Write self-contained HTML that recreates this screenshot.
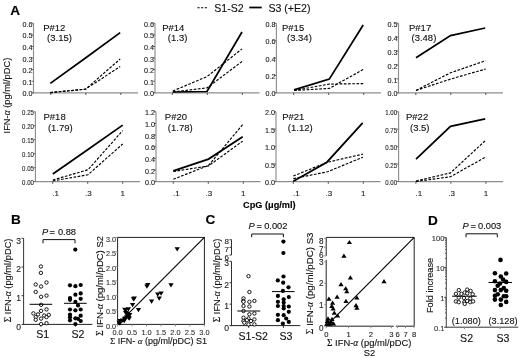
<!DOCTYPE html>
<html><head><meta charset="utf-8"><style>
html,body{margin:0;padding:0;background:#fff;}
body{width:520px;height:358px;overflow:hidden;}
svg{display:block;font-family:"Liberation Sans", sans-serif;filter:grayscale(100%);}
text{stroke:currentColor;stroke-width:0.12px;}
</style></head><body>
<svg width="520" height="358" viewBox="0 0 520 358">
<rect width="520" height="358" fill="#fff"/>
<line x1="33.50" y1="23.30" x2="33.50" y2="93.30" stroke="#8e8e8e" stroke-width="1.15" stroke-linecap="butt"/>
<line x1="33.00" y1="92.80" x2="138.00" y2="92.80" stroke="#8e8e8e" stroke-width="1.15" stroke-linecap="butt"/>
<line x1="31.50" y1="92.80" x2="33.50" y2="92.80" stroke="#666" stroke-width="1" stroke-linecap="butt"/>
<text x="32.60" y="96.40" font-size="7.2" text-anchor="end" font-weight="normal" fill="#222" color="#222">0.0</text>
<line x1="31.50" y1="81.22" x2="33.50" y2="81.22" stroke="#666" stroke-width="1" stroke-linecap="butt"/>
<text x="32.60" y="84.82" font-size="7.2" text-anchor="end" font-weight="normal" fill="#222" color="#222">0.1</text>
<line x1="31.50" y1="69.63" x2="33.50" y2="69.63" stroke="#666" stroke-width="1" stroke-linecap="butt"/>
<text x="32.60" y="73.23" font-size="7.2" text-anchor="end" font-weight="normal" fill="#222" color="#222">0.2</text>
<line x1="31.50" y1="58.05" x2="33.50" y2="58.05" stroke="#666" stroke-width="1" stroke-linecap="butt"/>
<text x="32.60" y="61.65" font-size="7.2" text-anchor="end" font-weight="normal" fill="#222" color="#222">0.3</text>
<line x1="31.50" y1="46.47" x2="33.50" y2="46.47" stroke="#666" stroke-width="1" stroke-linecap="butt"/>
<text x="32.60" y="50.07" font-size="7.2" text-anchor="end" font-weight="normal" fill="#222" color="#222">0.4</text>
<line x1="31.50" y1="34.88" x2="33.50" y2="34.88" stroke="#666" stroke-width="1" stroke-linecap="butt"/>
<text x="32.60" y="38.48" font-size="7.2" text-anchor="end" font-weight="normal" fill="#222" color="#222">0.5</text>
<line x1="31.50" y1="23.30" x2="33.50" y2="23.30" stroke="#666" stroke-width="1" stroke-linecap="butt"/>
<text x="32.60" y="26.90" font-size="7.2" text-anchor="end" font-weight="normal" fill="#222" color="#222">0.6</text>
<line x1="50.80" y1="92.80" x2="50.80" y2="95.00" stroke="#555" stroke-width="1" stroke-linecap="butt"/>
<line x1="85.80" y1="92.80" x2="85.80" y2="95.00" stroke="#555" stroke-width="1" stroke-linecap="butt"/>
<line x1="120.80" y1="92.80" x2="120.80" y2="95.00" stroke="#555" stroke-width="1" stroke-linecap="butt"/>
<polyline points="50.30,92.60 85.50,89.20 120.20,59.00" fill="none" stroke="#000" stroke-width="1.15" stroke-dasharray="2.7,1.5" stroke-linejoin="miter"/>
<polyline points="50.30,92.60 85.50,89.20 120.20,66.50" fill="none" stroke="#000" stroke-width="1.15" stroke-dasharray="2.7,1.5" stroke-linejoin="miter"/>
<polyline points="50.30,83.40 85.50,58.00 120.20,32.60" fill="none" stroke="#000" stroke-width="1.75" stroke-linejoin="miter"/>
<text x="43.20" y="31.10" font-size="9.5" text-anchor="start" font-weight="normal" fill="#111" color="#111">P#12</text>
<text x="47.10" y="40.70" font-size="9.5" text-anchor="start" font-weight="normal" fill="#111" color="#111">(3.15)</text>
<line x1="155.00" y1="23.30" x2="155.00" y2="93.30" stroke="#8e8e8e" stroke-width="1.15" stroke-linecap="butt"/>
<line x1="154.50" y1="92.80" x2="259.50" y2="92.80" stroke="#8e8e8e" stroke-width="1.15" stroke-linecap="butt"/>
<line x1="153.00" y1="92.80" x2="155.00" y2="92.80" stroke="#666" stroke-width="1" stroke-linecap="butt"/>
<text x="154.10" y="96.40" font-size="7.2" text-anchor="end" font-weight="normal" fill="#222" color="#222">0.0</text>
<line x1="153.00" y1="81.22" x2="155.00" y2="81.22" stroke="#666" stroke-width="1" stroke-linecap="butt"/>
<text x="154.10" y="84.82" font-size="7.2" text-anchor="end" font-weight="normal" fill="#222" color="#222">0.1</text>
<line x1="153.00" y1="69.63" x2="155.00" y2="69.63" stroke="#666" stroke-width="1" stroke-linecap="butt"/>
<text x="154.10" y="73.23" font-size="7.2" text-anchor="end" font-weight="normal" fill="#222" color="#222">0.2</text>
<line x1="153.00" y1="58.05" x2="155.00" y2="58.05" stroke="#666" stroke-width="1" stroke-linecap="butt"/>
<text x="154.10" y="61.65" font-size="7.2" text-anchor="end" font-weight="normal" fill="#222" color="#222">0.3</text>
<line x1="153.00" y1="46.47" x2="155.00" y2="46.47" stroke="#666" stroke-width="1" stroke-linecap="butt"/>
<text x="154.10" y="50.07" font-size="7.2" text-anchor="end" font-weight="normal" fill="#222" color="#222">0.4</text>
<line x1="153.00" y1="34.88" x2="155.00" y2="34.88" stroke="#666" stroke-width="1" stroke-linecap="butt"/>
<text x="154.10" y="38.48" font-size="7.2" text-anchor="end" font-weight="normal" fill="#222" color="#222">0.5</text>
<line x1="153.00" y1="23.30" x2="155.00" y2="23.30" stroke="#666" stroke-width="1" stroke-linecap="butt"/>
<text x="154.10" y="26.90" font-size="7.2" text-anchor="end" font-weight="normal" fill="#222" color="#222">0.6</text>
<line x1="172.30" y1="92.80" x2="172.30" y2="95.00" stroke="#555" stroke-width="1" stroke-linecap="butt"/>
<line x1="207.30" y1="92.80" x2="207.30" y2="95.00" stroke="#555" stroke-width="1" stroke-linecap="butt"/>
<line x1="242.30" y1="92.80" x2="242.30" y2="95.00" stroke="#555" stroke-width="1" stroke-linecap="butt"/>
<polyline points="172.80,91.00 207.00,76.60 242.00,48.90" fill="none" stroke="#000" stroke-width="1.15" stroke-dasharray="2.7,1.5" stroke-linejoin="miter"/>
<polyline points="172.80,92.00 207.00,87.90 242.00,61.50" fill="none" stroke="#000" stroke-width="1.15" stroke-dasharray="2.7,1.5" stroke-linejoin="miter"/>
<polyline points="172.80,92.00 207.00,91.50 242.00,32.00" fill="none" stroke="#000" stroke-width="1.75" stroke-linejoin="miter"/>
<text x="162.20" y="31.10" font-size="9.5" text-anchor="start" font-weight="normal" fill="#111" color="#111">P#14</text>
<text x="167.80" y="40.70" font-size="9.5" text-anchor="start" font-weight="normal" fill="#111" color="#111">(1.3)</text>
<line x1="276.40" y1="23.30" x2="276.40" y2="93.30" stroke="#8e8e8e" stroke-width="1.15" stroke-linecap="butt"/>
<line x1="275.90" y1="92.80" x2="380.90" y2="92.80" stroke="#8e8e8e" stroke-width="1.15" stroke-linecap="butt"/>
<line x1="274.40" y1="92.80" x2="276.40" y2="92.80" stroke="#666" stroke-width="1" stroke-linecap="butt"/>
<text x="275.50" y="96.40" font-size="7.2" text-anchor="end" font-weight="normal" fill="#222" color="#222">0.0</text>
<line x1="274.40" y1="75.42" x2="276.40" y2="75.42" stroke="#666" stroke-width="1" stroke-linecap="butt"/>
<text x="275.50" y="79.02" font-size="7.2" text-anchor="end" font-weight="normal" fill="#222" color="#222">0.2</text>
<line x1="274.40" y1="58.05" x2="276.40" y2="58.05" stroke="#666" stroke-width="1" stroke-linecap="butt"/>
<text x="275.50" y="61.65" font-size="7.2" text-anchor="end" font-weight="normal" fill="#222" color="#222">0.4</text>
<line x1="274.40" y1="40.67" x2="276.40" y2="40.67" stroke="#666" stroke-width="1" stroke-linecap="butt"/>
<text x="275.50" y="44.27" font-size="7.2" text-anchor="end" font-weight="normal" fill="#222" color="#222">0.6</text>
<line x1="274.40" y1="23.30" x2="276.40" y2="23.30" stroke="#666" stroke-width="1" stroke-linecap="butt"/>
<text x="275.50" y="26.90" font-size="7.2" text-anchor="end" font-weight="normal" fill="#222" color="#222">0.8</text>
<line x1="293.70" y1="92.80" x2="293.70" y2="95.00" stroke="#555" stroke-width="1" stroke-linecap="butt"/>
<line x1="328.70" y1="92.80" x2="328.70" y2="95.00" stroke="#555" stroke-width="1" stroke-linecap="butt"/>
<line x1="363.70" y1="92.80" x2="363.70" y2="95.00" stroke="#555" stroke-width="1" stroke-linecap="butt"/>
<polyline points="294.00,90.50 329.30,84.10 363.20,83.60" fill="none" stroke="#000" stroke-width="1.15" stroke-dasharray="2.7,1.5" stroke-linejoin="miter"/>
<polyline points="294.00,90.50 329.30,88.40 363.20,69.50" fill="none" stroke="#000" stroke-width="1.15" stroke-dasharray="2.7,1.5" stroke-linejoin="miter"/>
<polyline points="294.00,89.90 329.30,79.10 363.20,25.00" fill="none" stroke="#000" stroke-width="1.75" stroke-linejoin="miter"/>
<text x="282.00" y="31.10" font-size="9.5" text-anchor="start" font-weight="normal" fill="#111" color="#111">P#15</text>
<text x="287.00" y="40.70" font-size="9.5" text-anchor="start" font-weight="normal" fill="#111" color="#111">(3.34)</text>
<line x1="398.50" y1="23.30" x2="398.50" y2="93.30" stroke="#8e8e8e" stroke-width="1.15" stroke-linecap="butt"/>
<line x1="398.00" y1="92.80" x2="503.00" y2="92.80" stroke="#8e8e8e" stroke-width="1.15" stroke-linecap="butt"/>
<line x1="396.50" y1="92.80" x2="398.50" y2="92.80" stroke="#666" stroke-width="1" stroke-linecap="butt"/>
<text x="397.60" y="96.40" font-size="7.2" text-anchor="end" font-weight="normal" fill="#222" color="#222">0.0</text>
<line x1="396.50" y1="78.90" x2="398.50" y2="78.90" stroke="#666" stroke-width="1" stroke-linecap="butt"/>
<text x="397.60" y="82.50" font-size="7.2" text-anchor="end" font-weight="normal" fill="#222" color="#222">0.1</text>
<line x1="396.50" y1="65.00" x2="398.50" y2="65.00" stroke="#666" stroke-width="1" stroke-linecap="butt"/>
<text x="397.60" y="68.60" font-size="7.2" text-anchor="end" font-weight="normal" fill="#222" color="#222">0.2</text>
<line x1="396.50" y1="51.10" x2="398.50" y2="51.10" stroke="#666" stroke-width="1" stroke-linecap="butt"/>
<text x="397.60" y="54.70" font-size="7.2" text-anchor="end" font-weight="normal" fill="#222" color="#222">0.3</text>
<line x1="396.50" y1="37.20" x2="398.50" y2="37.20" stroke="#666" stroke-width="1" stroke-linecap="butt"/>
<text x="397.60" y="40.80" font-size="7.2" text-anchor="end" font-weight="normal" fill="#222" color="#222">0.4</text>
<line x1="396.50" y1="23.30" x2="398.50" y2="23.30" stroke="#666" stroke-width="1" stroke-linecap="butt"/>
<text x="397.60" y="26.90" font-size="7.2" text-anchor="end" font-weight="normal" fill="#222" color="#222">0.5</text>
<line x1="415.80" y1="92.80" x2="415.80" y2="95.00" stroke="#555" stroke-width="1" stroke-linecap="butt"/>
<line x1="450.80" y1="92.80" x2="450.80" y2="95.00" stroke="#555" stroke-width="1" stroke-linecap="butt"/>
<line x1="485.80" y1="92.80" x2="485.80" y2="95.00" stroke="#555" stroke-width="1" stroke-linecap="butt"/>
<polyline points="416.00,90.40 450.50,72.80 485.70,60.70" fill="none" stroke="#000" stroke-width="1.15" stroke-dasharray="2.7,1.5" stroke-linejoin="miter"/>
<polyline points="416.00,90.40 450.50,79.10 485.70,69.00" fill="none" stroke="#000" stroke-width="1.15" stroke-dasharray="2.7,1.5" stroke-linejoin="miter"/>
<polyline points="416.00,57.70 450.50,35.60 485.20,28.00" fill="none" stroke="#000" stroke-width="1.75" stroke-linejoin="miter"/>
<text x="409.00" y="31.10" font-size="9.5" text-anchor="start" font-weight="normal" fill="#111" color="#111">P#17</text>
<text x="411.50" y="40.70" font-size="9.5" text-anchor="start" font-weight="normal" fill="#111" color="#111">(3.48)</text>
<line x1="35.40" y1="111.80" x2="35.40" y2="182.10" stroke="#8e8e8e" stroke-width="1.15" stroke-linecap="butt"/>
<line x1="34.90" y1="181.60" x2="139.90" y2="181.60" stroke="#8e8e8e" stroke-width="1.15" stroke-linecap="butt"/>
<line x1="33.40" y1="181.60" x2="35.40" y2="181.60" stroke="#666" stroke-width="1" stroke-linecap="butt"/>
<text x="0.00" y="0.00" font-size="7.6" text-anchor="end" font-weight="normal" fill="#222" color="#222" transform="translate(33.90 185.20) scale(0.8 1)">0.00</text>
<line x1="33.40" y1="167.64" x2="35.40" y2="167.64" stroke="#666" stroke-width="1" stroke-linecap="butt"/>
<text x="0.00" y="0.00" font-size="7.6" text-anchor="end" font-weight="normal" fill="#222" color="#222" transform="translate(33.90 171.24) scale(0.8 1)">0.05</text>
<line x1="33.40" y1="153.68" x2="35.40" y2="153.68" stroke="#666" stroke-width="1" stroke-linecap="butt"/>
<text x="0.00" y="0.00" font-size="7.6" text-anchor="end" font-weight="normal" fill="#222" color="#222" transform="translate(33.90 157.28) scale(0.8 1)">0.10</text>
<line x1="33.40" y1="139.72" x2="35.40" y2="139.72" stroke="#666" stroke-width="1" stroke-linecap="butt"/>
<text x="0.00" y="0.00" font-size="7.6" text-anchor="end" font-weight="normal" fill="#222" color="#222" transform="translate(33.90 143.32) scale(0.8 1)">0.15</text>
<line x1="33.40" y1="125.76" x2="35.40" y2="125.76" stroke="#666" stroke-width="1" stroke-linecap="butt"/>
<text x="0.00" y="0.00" font-size="7.6" text-anchor="end" font-weight="normal" fill="#222" color="#222" transform="translate(33.90 129.36) scale(0.8 1)">0.20</text>
<line x1="33.40" y1="111.80" x2="35.40" y2="111.80" stroke="#666" stroke-width="1" stroke-linecap="butt"/>
<text x="0.00" y="0.00" font-size="7.6" text-anchor="end" font-weight="normal" fill="#222" color="#222" transform="translate(33.90 115.40) scale(0.8 1)">0.25</text>
<line x1="52.70" y1="181.60" x2="52.70" y2="183.80" stroke="#555" stroke-width="1" stroke-linecap="butt"/>
<line x1="87.70" y1="181.60" x2="87.70" y2="183.80" stroke="#555" stroke-width="1" stroke-linecap="butt"/>
<line x1="122.70" y1="181.60" x2="122.70" y2="183.80" stroke="#555" stroke-width="1" stroke-linecap="butt"/>
<text x="55.70" y="196.00" font-size="8" text-anchor="middle" font-weight="normal" fill="#222" color="#222">.1</text>
<text x="88.30" y="196.00" font-size="8" text-anchor="middle" font-weight="normal" fill="#222" color="#222">.3</text>
<text x="122.70" y="196.00" font-size="8" text-anchor="middle" font-weight="normal" fill="#222" color="#222">1</text>
<polyline points="52.80,180.00 88.00,169.80 122.70,130.60" fill="none" stroke="#000" stroke-width="1.15" stroke-dasharray="2.7,1.5" stroke-linejoin="miter"/>
<polyline points="52.80,181.00 88.00,174.70 122.70,144.00" fill="none" stroke="#000" stroke-width="1.15" stroke-dasharray="2.7,1.5" stroke-linejoin="miter"/>
<polyline points="52.80,174.00 88.00,149.50 122.70,125.10" fill="none" stroke="#000" stroke-width="1.75" stroke-linejoin="miter"/>
<text x="43.50" y="119.90" font-size="9.5" text-anchor="start" font-weight="normal" fill="#111" color="#111">P#18</text>
<text x="47.90" y="131.10" font-size="9.5" text-anchor="start" font-weight="normal" fill="#111" color="#111">(1.79)</text>
<line x1="156.00" y1="111.80" x2="156.00" y2="182.10" stroke="#8e8e8e" stroke-width="1.15" stroke-linecap="butt"/>
<line x1="155.50" y1="181.60" x2="260.50" y2="181.60" stroke="#8e8e8e" stroke-width="1.15" stroke-linecap="butt"/>
<line x1="154.00" y1="181.60" x2="156.00" y2="181.60" stroke="#666" stroke-width="1" stroke-linecap="butt"/>
<text x="155.10" y="185.20" font-size="7.2" text-anchor="end" font-weight="normal" fill="#222" color="#222">0.0</text>
<line x1="154.00" y1="169.97" x2="156.00" y2="169.97" stroke="#666" stroke-width="1" stroke-linecap="butt"/>
<text x="155.10" y="173.57" font-size="7.2" text-anchor="end" font-weight="normal" fill="#222" color="#222">0.2</text>
<line x1="154.00" y1="158.33" x2="156.00" y2="158.33" stroke="#666" stroke-width="1" stroke-linecap="butt"/>
<text x="155.10" y="161.93" font-size="7.2" text-anchor="end" font-weight="normal" fill="#222" color="#222">0.4</text>
<line x1="154.00" y1="146.70" x2="156.00" y2="146.70" stroke="#666" stroke-width="1" stroke-linecap="butt"/>
<text x="155.10" y="150.30" font-size="7.2" text-anchor="end" font-weight="normal" fill="#222" color="#222">0.6</text>
<line x1="154.00" y1="135.07" x2="156.00" y2="135.07" stroke="#666" stroke-width="1" stroke-linecap="butt"/>
<text x="155.10" y="138.67" font-size="7.2" text-anchor="end" font-weight="normal" fill="#222" color="#222">0.8</text>
<line x1="154.00" y1="123.43" x2="156.00" y2="123.43" stroke="#666" stroke-width="1" stroke-linecap="butt"/>
<text x="155.10" y="127.03" font-size="7.2" text-anchor="end" font-weight="normal" fill="#222" color="#222">1.0</text>
<line x1="154.00" y1="111.80" x2="156.00" y2="111.80" stroke="#666" stroke-width="1" stroke-linecap="butt"/>
<text x="155.10" y="115.40" font-size="7.2" text-anchor="end" font-weight="normal" fill="#222" color="#222">1.2</text>
<line x1="173.30" y1="181.60" x2="173.30" y2="183.80" stroke="#555" stroke-width="1" stroke-linecap="butt"/>
<line x1="208.30" y1="181.60" x2="208.30" y2="183.80" stroke="#555" stroke-width="1" stroke-linecap="butt"/>
<line x1="243.30" y1="181.60" x2="243.30" y2="183.80" stroke="#555" stroke-width="1" stroke-linecap="butt"/>
<text x="176.30" y="196.00" font-size="8" text-anchor="middle" font-weight="normal" fill="#222" color="#222">.1</text>
<text x="208.90" y="196.00" font-size="8" text-anchor="middle" font-weight="normal" fill="#222" color="#222">.3</text>
<text x="243.30" y="196.00" font-size="8" text-anchor="middle" font-weight="normal" fill="#222" color="#222">1</text>
<polyline points="173.30,171.50 208.50,165.90 242.70,141.10" fill="none" stroke="#000" stroke-width="1.15" stroke-dasharray="2.7,1.5" stroke-linejoin="miter"/>
<polyline points="173.30,179.20 208.50,165.50 242.70,124.60" fill="none" stroke="#000" stroke-width="1.15" stroke-dasharray="2.7,1.5" stroke-linejoin="miter"/>
<polyline points="173.30,170.90 208.50,159.10 242.70,136.70" fill="none" stroke="#000" stroke-width="1.75" stroke-linejoin="miter"/>
<text x="164.80" y="119.90" font-size="9.5" text-anchor="start" font-weight="normal" fill="#111" color="#111">P#20</text>
<text x="167.80" y="131.10" font-size="9.5" text-anchor="start" font-weight="normal" fill="#111" color="#111">(1.78)</text>
<line x1="276.00" y1="111.80" x2="276.00" y2="182.10" stroke="#8e8e8e" stroke-width="1.15" stroke-linecap="butt"/>
<line x1="275.50" y1="181.60" x2="380.50" y2="181.60" stroke="#8e8e8e" stroke-width="1.15" stroke-linecap="butt"/>
<line x1="274.00" y1="181.60" x2="276.00" y2="181.60" stroke="#666" stroke-width="1" stroke-linecap="butt"/>
<text x="275.10" y="185.20" font-size="7.2" text-anchor="end" font-weight="normal" fill="#222" color="#222">0.0</text>
<line x1="274.00" y1="164.15" x2="276.00" y2="164.15" stroke="#666" stroke-width="1" stroke-linecap="butt"/>
<text x="275.10" y="167.75" font-size="7.2" text-anchor="end" font-weight="normal" fill="#222" color="#222">0.5</text>
<line x1="274.00" y1="146.70" x2="276.00" y2="146.70" stroke="#666" stroke-width="1" stroke-linecap="butt"/>
<text x="275.10" y="150.30" font-size="7.2" text-anchor="end" font-weight="normal" fill="#222" color="#222">1.0</text>
<line x1="274.00" y1="129.25" x2="276.00" y2="129.25" stroke="#666" stroke-width="1" stroke-linecap="butt"/>
<text x="275.10" y="132.85" font-size="7.2" text-anchor="end" font-weight="normal" fill="#222" color="#222">1.5</text>
<line x1="274.00" y1="111.80" x2="276.00" y2="111.80" stroke="#666" stroke-width="1" stroke-linecap="butt"/>
<text x="275.10" y="115.40" font-size="7.2" text-anchor="end" font-weight="normal" fill="#222" color="#222">2.0</text>
<line x1="293.30" y1="181.60" x2="293.30" y2="183.80" stroke="#555" stroke-width="1" stroke-linecap="butt"/>
<line x1="328.30" y1="181.60" x2="328.30" y2="183.80" stroke="#555" stroke-width="1" stroke-linecap="butt"/>
<line x1="363.30" y1="181.60" x2="363.30" y2="183.80" stroke="#555" stroke-width="1" stroke-linecap="butt"/>
<text x="296.30" y="196.00" font-size="8" text-anchor="middle" font-weight="normal" fill="#222" color="#222">.1</text>
<text x="328.90" y="196.00" font-size="8" text-anchor="middle" font-weight="normal" fill="#222" color="#222">.3</text>
<text x="363.30" y="196.00" font-size="8" text-anchor="middle" font-weight="normal" fill="#222" color="#222">1</text>
<polyline points="293.30,176.00 326.90,162.40 362.90,154.10" fill="none" stroke="#000" stroke-width="1.15" stroke-dasharray="2.7,1.5" stroke-linejoin="miter"/>
<polyline points="293.30,178.60 327.50,171.80 362.90,157.20" fill="none" stroke="#000" stroke-width="1.15" stroke-dasharray="2.7,1.5" stroke-linejoin="miter"/>
<polyline points="293.30,181.20 326.90,162.20 362.70,122.80" fill="none" stroke="#000" stroke-width="1.75" stroke-linejoin="miter"/>
<text x="282.20" y="119.90" font-size="9.5" text-anchor="start" font-weight="normal" fill="#111" color="#111">P#21</text>
<text x="287.80" y="131.10" font-size="9.5" text-anchor="start" font-weight="normal" fill="#111" color="#111">(1.12)</text>
<line x1="398.60" y1="111.80" x2="398.60" y2="182.10" stroke="#8e8e8e" stroke-width="1.15" stroke-linecap="butt"/>
<line x1="398.10" y1="181.60" x2="503.10" y2="181.60" stroke="#8e8e8e" stroke-width="1.15" stroke-linecap="butt"/>
<line x1="396.60" y1="181.60" x2="398.60" y2="181.60" stroke="#666" stroke-width="1" stroke-linecap="butt"/>
<text x="0.00" y="0.00" font-size="7.6" text-anchor="end" font-weight="normal" fill="#222" color="#222" transform="translate(397.10 185.20) scale(0.8 1)">0.00</text>
<line x1="396.60" y1="164.15" x2="398.60" y2="164.15" stroke="#666" stroke-width="1" stroke-linecap="butt"/>
<text x="0.00" y="0.00" font-size="7.6" text-anchor="end" font-weight="normal" fill="#222" color="#222" transform="translate(397.10 167.75) scale(0.8 1)">0.25</text>
<line x1="396.60" y1="146.70" x2="398.60" y2="146.70" stroke="#666" stroke-width="1" stroke-linecap="butt"/>
<text x="0.00" y="0.00" font-size="7.6" text-anchor="end" font-weight="normal" fill="#222" color="#222" transform="translate(397.10 150.30) scale(0.8 1)">0.50</text>
<line x1="396.60" y1="129.25" x2="398.60" y2="129.25" stroke="#666" stroke-width="1" stroke-linecap="butt"/>
<text x="0.00" y="0.00" font-size="7.6" text-anchor="end" font-weight="normal" fill="#222" color="#222" transform="translate(397.10 132.85) scale(0.8 1)">0.75</text>
<line x1="396.60" y1="111.80" x2="398.60" y2="111.80" stroke="#666" stroke-width="1" stroke-linecap="butt"/>
<text x="0.00" y="0.00" font-size="7.6" text-anchor="end" font-weight="normal" fill="#222" color="#222" transform="translate(397.10 115.40) scale(0.8 1)">1.00</text>
<line x1="415.90" y1="181.60" x2="415.90" y2="183.80" stroke="#555" stroke-width="1" stroke-linecap="butt"/>
<line x1="450.90" y1="181.60" x2="450.90" y2="183.80" stroke="#555" stroke-width="1" stroke-linecap="butt"/>
<line x1="485.90" y1="181.60" x2="485.90" y2="183.80" stroke="#555" stroke-width="1" stroke-linecap="butt"/>
<text x="418.90" y="196.00" font-size="8" text-anchor="middle" font-weight="normal" fill="#222" color="#222">.1</text>
<text x="451.50" y="196.00" font-size="8" text-anchor="middle" font-weight="normal" fill="#222" color="#222">.3</text>
<text x="485.90" y="196.00" font-size="8" text-anchor="middle" font-weight="normal" fill="#222" color="#222">1</text>
<polyline points="416.00,181.00 450.50,172.90 485.20,140.70" fill="none" stroke="#000" stroke-width="1.15" stroke-dasharray="2.7,1.5" stroke-linejoin="miter"/>
<polyline points="416.00,181.50 450.50,176.70 485.20,157.30" fill="none" stroke="#000" stroke-width="1.15" stroke-dasharray="2.7,1.5" stroke-linejoin="miter"/>
<polyline points="416.00,159.10 450.50,126.40 485.20,118.90" fill="none" stroke="#000" stroke-width="1.75" stroke-linejoin="miter"/>
<text x="406.00" y="119.90" font-size="9.5" text-anchor="start" font-weight="normal" fill="#111" color="#111">P#22</text>
<text x="410.00" y="131.10" font-size="9.5" text-anchor="start" font-weight="normal" fill="#111" color="#111">(3.5)</text>
<line x1="197.40" y1="7.70" x2="207.50" y2="7.70" stroke="#000" stroke-width="1.15" stroke-dasharray="2.2,1.5" stroke-linecap="butt"/>
<text x="214.20" y="11.90" font-size="10.6" text-anchor="start" font-weight="normal" fill="#111" color="#111">S1-S2</text>
<line x1="249.30" y1="7.50" x2="261.70" y2="7.50" stroke="#000" stroke-width="1.75" stroke-linecap="butt"/>
<text x="268.40" y="11.90" font-size="10.6" text-anchor="start" font-weight="normal" fill="#111" color="#111">S3 (+E2)</text>
<text x="10.30" y="15.10" font-size="13.6" text-anchor="start" font-weight="bold" fill="#000" color="#000">A</text>
<text x="10.30" y="133.40" font-size="9.3" text-anchor="start" font-weight="normal" fill="#111" color="#111" transform="rotate(-90 10.30 133.40)">IFN-<tspan font-family="Liberation Serif" font-style="italic">α</tspan> (pg/ml/pDC)</text>
<text x="243.00" y="208.00" font-size="9.2" text-anchor="start" font-weight="bold" fill="#000" color="#000">CpG (μg/ml)</text>
<text x="10.90" y="224.20" font-size="13.6" text-anchor="start" font-weight="bold" fill="#000" color="#000">B</text>
<line x1="23.60" y1="238.30" x2="23.60" y2="324.90" stroke="#333" stroke-width="1" stroke-linecap="butt"/>
<line x1="23.10" y1="324.40" x2="92.40" y2="324.40" stroke="#222" stroke-width="1" stroke-linecap="butt"/>
<line x1="41.00" y1="324.40" x2="41.00" y2="326.60" stroke="#222" stroke-width="1" stroke-linecap="butt"/>
<line x1="75.50" y1="324.40" x2="75.50" y2="326.60" stroke="#222" stroke-width="1" stroke-linecap="butt"/>
<line x1="21.60" y1="324.40" x2="23.60" y2="324.40" stroke="#333" stroke-width="1" stroke-linecap="butt"/>
<text x="21.10" y="329.70" font-size="8.6" text-anchor="end" font-weight="normal" fill="#222" color="#222">0</text>
<line x1="21.60" y1="295.70" x2="23.60" y2="295.70" stroke="#333" stroke-width="1" stroke-linecap="butt"/>
<text x="21.10" y="301.00" font-size="8.6" text-anchor="end" font-weight="normal" fill="#222" color="#222">1</text>
<line x1="21.60" y1="267.00" x2="23.60" y2="267.00" stroke="#333" stroke-width="1" stroke-linecap="butt"/>
<text x="21.10" y="272.30" font-size="8.6" text-anchor="end" font-weight="normal" fill="#222" color="#222">2</text>
<line x1="21.60" y1="238.30" x2="23.60" y2="238.30" stroke="#333" stroke-width="1" stroke-linecap="butt"/>
<text x="21.10" y="243.60" font-size="8.6" text-anchor="end" font-weight="normal" fill="#222" color="#222">3</text>
<text x="11.30" y="322.20" font-size="9.3" text-anchor="start" font-weight="normal" fill="#111" color="#111" transform="rotate(-90 11.30 322.20)"><tspan font-family="Liberation Serif">Σ</tspan> IFN-<tspan font-family="Liberation Serif" font-style="italic">α</tspan> (pg/ml/pDC)</text>
<text x="36.30" y="338.40" font-size="10.6" text-anchor="start" font-weight="normal" fill="#111" color="#111">S1</text>
<text x="71.40" y="338.40" font-size="10.6" text-anchor="start" font-weight="normal" fill="#111" color="#111">S2</text>
<text x="42.00" y="235.20" font-size="9.3" text-anchor="start" font-weight="normal" fill="#111" color="#111" font-style="italic">P</text>
<text x="49.60" y="235.20" font-size="9.3" text-anchor="start" font-weight="normal" fill="#111" color="#111">=</text>
<text x="57.90" y="235.20" font-size="9.3" text-anchor="start" font-weight="normal" fill="#111" color="#111">0.88</text>
<polyline points="43.00,243.30 43.00,239.60 75.00,239.60 75.00,243.30" fill="none" stroke="#111" stroke-width="1.0" stroke-linejoin="miter"/>
<circle cx="35.7" cy="284.5" r="1.7" fill="#fff" stroke="#000" stroke-width="0.9"/>
<circle cx="41.1" cy="286.5" r="1.7" fill="#fff" stroke="#000" stroke-width="0.9"/>
<circle cx="46.5" cy="282.5" r="1.7" fill="#fff" stroke="#000" stroke-width="0.9"/>
<circle cx="35.7" cy="291.9" r="1.7" fill="#fff" stroke="#000" stroke-width="0.9"/>
<circle cx="41.1" cy="296.8" r="1.7" fill="#fff" stroke="#000" stroke-width="0.9"/>
<circle cx="46.5" cy="295.6" r="1.7" fill="#fff" stroke="#000" stroke-width="0.9"/>
<circle cx="41.1" cy="304.8" r="1.7" fill="#fff" stroke="#000" stroke-width="0.9"/>
<circle cx="41.1" cy="310.9" r="1.7" fill="#fff" stroke="#000" stroke-width="0.9"/>
<circle cx="46.5" cy="309.4" r="1.7" fill="#fff" stroke="#000" stroke-width="0.9"/>
<circle cx="33.4" cy="313.4" r="1.7" fill="#fff" stroke="#000" stroke-width="0.9"/>
<circle cx="38" cy="314.4" r="1.7" fill="#fff" stroke="#000" stroke-width="0.9"/>
<circle cx="44.2" cy="315.5" r="1.7" fill="#fff" stroke="#000" stroke-width="0.9"/>
<circle cx="48.8" cy="314.9" r="1.7" fill="#fff" stroke="#000" stroke-width="0.9"/>
<circle cx="35.7" cy="317.1" r="1.7" fill="#fff" stroke="#000" stroke-width="0.9"/>
<circle cx="35.7" cy="319.8" r="1.7" fill="#fff" stroke="#000" stroke-width="0.9"/>
<circle cx="41.1" cy="318.6" r="1.7" fill="#fff" stroke="#000" stroke-width="0.9"/>
<circle cx="46.5" cy="317.1" r="1.7" fill="#fff" stroke="#000" stroke-width="0.9"/>
<circle cx="41.1" cy="324.1" r="1.7" fill="#fff" stroke="#000" stroke-width="0.9"/>
<circle cx="46.5" cy="323.2" r="1.7" fill="#fff" stroke="#000" stroke-width="0.9"/>
<circle cx="40.9" cy="266.5" r="1.7" fill="#fff" stroke="#000" stroke-width="0.9"/>
<circle cx="40.9" cy="272.9" r="1.7" fill="#fff" stroke="#000" stroke-width="0.9"/>
<circle cx="75.3" cy="249.6" r="2.1" fill="#000"/>
<circle cx="70" cy="285.3" r="2.1" fill="#000"/>
<circle cx="75.4" cy="286.2" r="2.1" fill="#000"/>
<circle cx="80.7" cy="285" r="2.1" fill="#000"/>
<circle cx="75.4" cy="294.7" r="2.1" fill="#000"/>
<circle cx="80.7" cy="293.4" r="2.1" fill="#000"/>
<circle cx="70" cy="298" r="2.1" fill="#000"/>
<circle cx="80.7" cy="298.8" r="2.1" fill="#000"/>
<circle cx="75.4" cy="301.9" r="2.1" fill="#000"/>
<circle cx="78" cy="305.4" r="2.1" fill="#000"/>
<circle cx="70" cy="309.5" r="2.1" fill="#000"/>
<circle cx="75.4" cy="310.3" r="2.1" fill="#000"/>
<circle cx="80.7" cy="309.5" r="2.1" fill="#000"/>
<circle cx="70" cy="314.6" r="2.1" fill="#000"/>
<circle cx="70" cy="317.2" r="2.1" fill="#000"/>
<circle cx="75.4" cy="318.3" r="2.1" fill="#000"/>
<circle cx="80.7" cy="315.7" r="2.1" fill="#000"/>
<circle cx="70" cy="320.3" r="2.1" fill="#000"/>
<circle cx="78" cy="318.8" r="2.1" fill="#000"/>
<circle cx="80.7" cy="321" r="2.1" fill="#000"/>
<circle cx="75.4" cy="324.1" r="2.1" fill="#000"/>
<circle cx="70" cy="299.8" r="2.1" fill="#000"/>
<line x1="29.60" y1="304.30" x2="52.20" y2="304.30" stroke="#000" stroke-width="1" stroke-linecap="butt"/>
<line x1="64.00" y1="303.30" x2="86.70" y2="303.30" stroke="#000" stroke-width="1" stroke-linecap="butt"/>
<rect x="117.6" y="237.4" width="86.80000000000001" height="86.99999999999997" fill="none" stroke="#222" stroke-width="1"/>
<line x1="117.60" y1="324.40" x2="204.40" y2="237.40" stroke="#000" stroke-width="1.1" stroke-linecap="butt"/>
<line x1="115.60" y1="324.40" x2="117.60" y2="324.40" stroke="#8a8a8a" stroke-width="1" stroke-linecap="butt"/>
<text x="116.00" y="328.70" font-size="7.2" text-anchor="end" font-weight="normal" fill="#333" color="#333">0.0</text>
<line x1="117.60" y1="324.40" x2="117.60" y2="326.40" stroke="#8a8a8a" stroke-width="1" stroke-linecap="butt"/>
<text x="117.60" y="334.90" font-size="7.4" text-anchor="middle" font-weight="normal" fill="#333" color="#333">0.0</text>
<line x1="115.60" y1="309.90" x2="117.60" y2="309.90" stroke="#8a8a8a" stroke-width="1" stroke-linecap="butt"/>
<text x="116.00" y="314.20" font-size="7.2" text-anchor="end" font-weight="normal" fill="#333" color="#333">0.5</text>
<line x1="132.07" y1="324.40" x2="132.07" y2="326.40" stroke="#8a8a8a" stroke-width="1" stroke-linecap="butt"/>
<text x="132.07" y="334.90" font-size="7.4" text-anchor="middle" font-weight="normal" fill="#333" color="#333">0.5</text>
<line x1="115.60" y1="295.40" x2="117.60" y2="295.40" stroke="#8a8a8a" stroke-width="1" stroke-linecap="butt"/>
<text x="116.00" y="299.70" font-size="7.2" text-anchor="end" font-weight="normal" fill="#333" color="#333">1.0</text>
<line x1="146.53" y1="324.40" x2="146.53" y2="326.40" stroke="#8a8a8a" stroke-width="1" stroke-linecap="butt"/>
<text x="146.53" y="334.90" font-size="7.4" text-anchor="middle" font-weight="normal" fill="#333" color="#333">1.0</text>
<line x1="115.60" y1="280.90" x2="117.60" y2="280.90" stroke="#8a8a8a" stroke-width="1" stroke-linecap="butt"/>
<text x="116.00" y="285.20" font-size="7.2" text-anchor="end" font-weight="normal" fill="#333" color="#333">1.5</text>
<line x1="161.00" y1="324.40" x2="161.00" y2="326.40" stroke="#8a8a8a" stroke-width="1" stroke-linecap="butt"/>
<text x="161.00" y="334.90" font-size="7.4" text-anchor="middle" font-weight="normal" fill="#333" color="#333">1.5</text>
<line x1="115.60" y1="266.40" x2="117.60" y2="266.40" stroke="#8a8a8a" stroke-width="1" stroke-linecap="butt"/>
<text x="116.00" y="270.70" font-size="7.2" text-anchor="end" font-weight="normal" fill="#333" color="#333">2.0</text>
<line x1="175.47" y1="324.40" x2="175.47" y2="326.40" stroke="#8a8a8a" stroke-width="1" stroke-linecap="butt"/>
<text x="175.47" y="334.90" font-size="7.4" text-anchor="middle" font-weight="normal" fill="#333" color="#333">2.0</text>
<line x1="115.60" y1="251.90" x2="117.60" y2="251.90" stroke="#8a8a8a" stroke-width="1" stroke-linecap="butt"/>
<text x="116.00" y="256.20" font-size="7.2" text-anchor="end" font-weight="normal" fill="#333" color="#333">2.5</text>
<line x1="189.93" y1="324.40" x2="189.93" y2="326.40" stroke="#8a8a8a" stroke-width="1" stroke-linecap="butt"/>
<text x="189.93" y="334.90" font-size="7.4" text-anchor="middle" font-weight="normal" fill="#333" color="#333">2.5</text>
<line x1="115.60" y1="237.40" x2="117.60" y2="237.40" stroke="#8a8a8a" stroke-width="1" stroke-linecap="butt"/>
<text x="116.00" y="241.70" font-size="7.2" text-anchor="end" font-weight="normal" fill="#333" color="#333">3.0</text>
<line x1="204.40" y1="324.40" x2="204.40" y2="326.40" stroke="#8a8a8a" stroke-width="1" stroke-linecap="butt"/>
<text x="204.40" y="334.90" font-size="7.4" text-anchor="middle" font-weight="normal" fill="#333" color="#333">3.0</text>
<text x="110.00" y="344.00" font-size="9.0" text-anchor="start" font-weight="normal" fill="#111" color="#111"><tspan font-family="Liberation Serif">Σ</tspan> IFN- <tspan font-family="Liberation Serif" font-style="italic">α</tspan> (pg/ml/pDC) S1</text>
<text x="103.20" y="335.70" font-size="9.5" text-anchor="start" font-weight="normal" fill="#111" color="#111" transform="rotate(-90 103.20 335.70)"><tspan font-family="Liberation Serif">Σ</tspan> IFN-<tspan font-family="Liberation Serif" font-style="italic">α</tspan> (pg/ml/pDC) S2</text>
<path d="M174.55,247.21L179.85,247.21L177.20,251.45Z" fill="#000"/>
<path d="M145.05,282.91L150.35,282.91L147.70,287.15Z" fill="#000"/>
<path d="M144.25,284.61L149.55,284.61L146.90,288.85Z" fill="#000"/>
<path d="M168.35,283.31L173.65,283.31L171.00,287.55Z" fill="#000"/>
<path d="M131.65,296.61L136.95,296.61L134.30,300.85Z" fill="#000"/>
<path d="M155.05,292.41L160.35,292.41L157.70,296.65Z" fill="#000"/>
<path d="M158.45,291.61L163.75,291.61L161.10,295.85Z" fill="#000"/>
<path d="M156.55,296.51L161.85,296.51L159.20,300.75Z" fill="#000"/>
<path d="M130.85,297.21L136.15,297.21L133.50,301.45Z" fill="#000"/>
<path d="M148.95,299.41L154.25,299.41L151.60,303.65Z" fill="#000"/>
<path d="M129.95,303.11L135.25,303.11L132.60,307.35Z" fill="#000"/>
<path d="M135.85,308.11L141.15,308.11L138.50,312.35Z" fill="#000"/>
<path d="M123.25,308.11L128.55,308.11L125.90,312.35Z" fill="#000"/>
<path d="M124.15,311.51L129.45,311.51L126.80,315.75Z" fill="#000"/>
<path d="M125.75,314.01L131.05,314.01L128.40,318.25Z" fill="#000"/>
<path d="M122.35,316.51L127.65,316.51L125.00,320.75Z" fill="#000"/>
<path d="M126.65,316.51L131.95,316.51L129.30,320.75Z" fill="#000"/>
<path d="M121.55,319.01L126.85,319.01L124.20,323.25Z" fill="#000"/>
<path d="M116.55,320.71L121.85,320.71L119.20,324.95Z" fill="#000"/>
<path d="M117.35,319.01L122.65,319.01L120.00,323.25Z" fill="#000"/>
<path d="M122.15,307.71L127.45,307.71L124.80,311.95Z" fill="#000"/>
<path d="M125.75,307.31L131.05,307.31L128.40,311.55Z" fill="#000"/>
<path d="M123.05,310.91L128.35,310.91L125.70,315.15Z" fill="#000"/>
<path d="M124.85,312.21L130.15,312.21L127.50,316.45Z" fill="#000"/>
<path d="M127.05,313.11L132.35,313.11L129.70,317.35Z" fill="#000"/>
<path d="M123.95,315.31L129.25,315.31L126.60,319.55Z" fill="#000"/>
<path d="M122.15,317.11L127.45,317.11L124.80,321.35Z" fill="#000"/>
<path d="M125.75,315.81L131.05,315.81L128.40,320.05Z" fill="#000"/>
<path d="M119.85,318.51L125.15,318.51L122.50,322.75Z" fill="#000"/>
<path d="M117.25,321.61L122.55,321.61L119.90,325.85Z" fill="#000"/>
<text x="205.40" y="224.30" font-size="13.6" text-anchor="start" font-weight="bold" fill="#000" color="#000">C</text>
<line x1="231.50" y1="261.30" x2="231.50" y2="326.10" stroke="#333" stroke-width="1" stroke-linecap="butt"/>
<line x1="231.50" y1="239.70" x2="231.50" y2="255.00" stroke="#333" stroke-width="1" stroke-linecap="butt"/>
<line x1="231.00" y1="325.60" x2="300.30" y2="325.60" stroke="#222" stroke-width="1" stroke-linecap="butt"/>
<line x1="248.70" y1="325.60" x2="248.70" y2="327.80" stroke="#222" stroke-width="1" stroke-linecap="butt"/>
<line x1="283.40" y1="325.60" x2="283.40" y2="327.80" stroke="#222" stroke-width="1" stroke-linecap="butt"/>
<line x1="229.50" y1="325.60" x2="231.50" y2="325.60" stroke="#333" stroke-width="1" stroke-linecap="butt"/>
<text x="229.00" y="330.70" font-size="8.6" text-anchor="end" font-weight="normal" fill="#222" color="#222">0</text>
<line x1="229.50" y1="304.17" x2="231.50" y2="304.17" stroke="#333" stroke-width="1" stroke-linecap="butt"/>
<text x="229.00" y="309.27" font-size="8.6" text-anchor="end" font-weight="normal" fill="#222" color="#222">1</text>
<line x1="229.50" y1="282.74" x2="231.50" y2="282.74" stroke="#333" stroke-width="1" stroke-linecap="butt"/>
<text x="229.00" y="287.84" font-size="8.6" text-anchor="end" font-weight="normal" fill="#222" color="#222">2</text>
<line x1="229.50" y1="261.31" x2="231.50" y2="261.31" stroke="#333" stroke-width="1" stroke-linecap="butt"/>
<text x="229.00" y="266.41" font-size="8.6" text-anchor="end" font-weight="normal" fill="#222" color="#222">3</text>
<line x1="229.50" y1="239.70" x2="231.50" y2="239.70" stroke="#333" stroke-width="1" stroke-linecap="butt"/>
<text x="229.00" y="244.20" font-size="8.0" text-anchor="end" font-weight="normal" fill="#222" color="#222">8</text>
<line x1="229.50" y1="247.30" x2="231.50" y2="247.30" stroke="#333" stroke-width="1" stroke-linecap="butt"/>
<text x="229.00" y="251.80" font-size="8.0" text-anchor="end" font-weight="normal" fill="#222" color="#222">7</text>
<line x1="229.50" y1="255.00" x2="231.50" y2="255.00" stroke="#333" stroke-width="1" stroke-linecap="butt"/>
<text x="229.00" y="259.50" font-size="8.0" text-anchor="end" font-weight="normal" fill="#222" color="#222">6</text>
<text x="219.80" y="322.20" font-size="9.3" text-anchor="start" font-weight="normal" fill="#111" color="#111" transform="rotate(-90 219.80 322.20)"><tspan font-family="Liberation Serif">Σ</tspan> IFN-<tspan font-family="Liberation Serif" font-style="italic">α</tspan> (pg/ml/pDC)</text>
<text x="238.50" y="340.00" font-size="10.6" text-anchor="start" font-weight="normal" fill="#111" color="#111">S1-S2</text>
<text x="279.50" y="340.00" font-size="10.6" text-anchor="start" font-weight="normal" fill="#111" color="#111">S3</text>
<text x="248.50" y="229.30" font-size="9.3" text-anchor="start" font-weight="normal" fill="#111" color="#111" font-style="italic">P</text>
<text x="256.60" y="229.30" font-size="9.3" text-anchor="start" font-weight="normal" fill="#111" color="#111">=</text>
<text x="264.20" y="229.30" font-size="9.3" text-anchor="start" font-weight="normal" fill="#111" color="#111">0.002</text>
<polyline points="251.70,237.30 251.70,234.00 283.40,234.00 283.40,237.30" fill="none" stroke="#111" stroke-width="1.0" stroke-linejoin="miter"/>
<circle cx="248.5" cy="276.2" r="1.7" fill="#fff" stroke="#000" stroke-width="0.9"/>
<circle cx="249.4" cy="292" r="1.7" fill="#fff" stroke="#000" stroke-width="0.9"/>
<circle cx="243.5" cy="298.4" r="1.7" fill="#fff" stroke="#000" stroke-width="0.9"/>
<circle cx="243.3" cy="300.9" r="1.7" fill="#fff" stroke="#000" stroke-width="0.9"/>
<circle cx="254.4" cy="300.9" r="1.7" fill="#fff" stroke="#000" stroke-width="0.9"/>
<circle cx="243.5" cy="301.8" r="1.7" fill="#fff" stroke="#000" stroke-width="0.9"/>
<circle cx="249.4" cy="301.8" r="1.7" fill="#fff" stroke="#000" stroke-width="0.9"/>
<circle cx="243.5" cy="306" r="1.7" fill="#fff" stroke="#000" stroke-width="0.9"/>
<circle cx="249.4" cy="306.5" r="1.7" fill="#fff" stroke="#000" stroke-width="0.9"/>
<circle cx="243.5" cy="311" r="1.7" fill="#fff" stroke="#000" stroke-width="0.9"/>
<circle cx="249.4" cy="314.3" r="1.7" fill="#fff" stroke="#000" stroke-width="0.9"/>
<circle cx="254.4" cy="313.5" r="1.7" fill="#fff" stroke="#000" stroke-width="0.9"/>
<circle cx="243.5" cy="317.7" r="1.7" fill="#fff" stroke="#000" stroke-width="0.9"/>
<circle cx="248.5" cy="318.5" r="1.7" fill="#fff" stroke="#000" stroke-width="0.9"/>
<circle cx="254.4" cy="319.4" r="1.7" fill="#fff" stroke="#000" stroke-width="0.9"/>
<circle cx="243.5" cy="321" r="1.7" fill="#fff" stroke="#000" stroke-width="0.9"/>
<circle cx="246.9" cy="320.2" r="1.7" fill="#fff" stroke="#000" stroke-width="0.9"/>
<circle cx="251" cy="321" r="1.7" fill="#fff" stroke="#000" stroke-width="0.9"/>
<circle cx="248.5" cy="324.4" r="1.7" fill="#fff" stroke="#000" stroke-width="0.9"/>
<circle cx="254.4" cy="324.4" r="1.7" fill="#fff" stroke="#000" stroke-width="0.9"/>
<circle cx="244.3" cy="322.7" r="1.7" fill="#fff" stroke="#000" stroke-width="0.9"/>
<circle cx="283.4" cy="241.6" r="2.1" fill="#000"/>
<circle cx="283.4" cy="253" r="2.1" fill="#000"/>
<circle cx="283.5" cy="276.5" r="2.1" fill="#000"/>
<circle cx="277.8" cy="280.4" r="2.1" fill="#000"/>
<circle cx="283.2" cy="282.7" r="2.1" fill="#000"/>
<circle cx="288.5" cy="287.3" r="2.1" fill="#000"/>
<circle cx="282.9" cy="290.9" r="2.1" fill="#000"/>
<circle cx="277.9" cy="295.9" r="2.1" fill="#000"/>
<circle cx="288.8" cy="297.1" r="2.1" fill="#000"/>
<circle cx="283.7" cy="299.3" r="2.1" fill="#000"/>
<circle cx="277.9" cy="301.8" r="2.1" fill="#000"/>
<circle cx="283.7" cy="302.6" r="2.1" fill="#000"/>
<circle cx="277.9" cy="306" r="2.1" fill="#000"/>
<circle cx="283.7" cy="306" r="2.1" fill="#000"/>
<circle cx="288.8" cy="306.5" r="2.1" fill="#000"/>
<circle cx="283.7" cy="308.5" r="2.1" fill="#000"/>
<circle cx="288.8" cy="311.8" r="2.1" fill="#000"/>
<circle cx="277.9" cy="314.8" r="2.1" fill="#000"/>
<circle cx="283.7" cy="315.2" r="2.1" fill="#000"/>
<circle cx="277.9" cy="320.2" r="2.1" fill="#000"/>
<circle cx="286.2" cy="318.5" r="2.1" fill="#000"/>
<circle cx="288.8" cy="321.9" r="2.1" fill="#000"/>
<circle cx="282.9" cy="323.6" r="2.1" fill="#000"/>
<line x1="237.30" y1="311.00" x2="260.30" y2="311.00" stroke="#000" stroke-width="1" stroke-linecap="butt"/>
<line x1="272.00" y1="291.60" x2="294.60" y2="291.60" stroke="#000" stroke-width="1" stroke-linecap="butt"/>
<line x1="326.20" y1="237.40" x2="414.20" y2="237.40" stroke="#222" stroke-width="1" stroke-linecap="butt"/>
<line x1="414.20" y1="237.40" x2="414.20" y2="326.20" stroke="#222" stroke-width="1" stroke-linecap="butt"/>
<line x1="326.20" y1="237.40" x2="326.20" y2="255.90" stroke="#222" stroke-width="1" stroke-linecap="butt"/>
<line x1="326.20" y1="259.80" x2="326.20" y2="326.20" stroke="#222" stroke-width="1" stroke-linecap="butt"/>
<line x1="326.20" y1="326.20" x2="393.80" y2="326.20" stroke="#222" stroke-width="1" stroke-linecap="butt"/>
<line x1="395.80" y1="326.20" x2="414.20" y2="326.20" stroke="#222" stroke-width="1" stroke-linecap="butt"/>
<line x1="326.20" y1="326.20" x2="414.20" y2="237.40" stroke="#000" stroke-width="1.1" stroke-linecap="butt"/>
<line x1="324.20" y1="326.20" x2="326.20" y2="326.20" stroke="#8a8a8a" stroke-width="1" stroke-linecap="butt"/>
<text x="323.60" y="330.95" font-size="8.2" text-anchor="end" font-weight="normal" fill="#222" color="#222">0</text>
<line x1="324.20" y1="304.70" x2="326.20" y2="304.70" stroke="#8a8a8a" stroke-width="1" stroke-linecap="butt"/>
<text x="323.60" y="307.95" font-size="8.2" text-anchor="end" font-weight="normal" fill="#222" color="#222">1</text>
<line x1="324.20" y1="283.20" x2="326.20" y2="283.20" stroke="#8a8a8a" stroke-width="1" stroke-linecap="butt"/>
<text x="323.60" y="286.25" font-size="8.2" text-anchor="end" font-weight="normal" fill="#222" color="#222">2</text>
<line x1="324.20" y1="261.70" x2="326.20" y2="261.70" stroke="#8a8a8a" stroke-width="1" stroke-linecap="butt"/>
<text x="323.60" y="265.45" font-size="8.2" text-anchor="end" font-weight="normal" fill="#222" color="#222">3</text>
<line x1="324.20" y1="238.50" x2="326.20" y2="238.50" stroke="#8a8a8a" stroke-width="1" stroke-linecap="butt"/>
<line x1="324.20" y1="247.30" x2="326.20" y2="247.30" stroke="#8a8a8a" stroke-width="1" stroke-linecap="butt"/>
<line x1="324.20" y1="255.90" x2="326.20" y2="255.90" stroke="#8a8a8a" stroke-width="1" stroke-linecap="butt"/>
<text x="323.60" y="244.05" font-size="8.2" text-anchor="end" font-weight="normal" fill="#222" color="#222">8</text>
<text x="323.60" y="251.55" font-size="8.2" text-anchor="end" font-weight="normal" fill="#222" color="#222">7</text>
<text x="323.60" y="257.75" font-size="8.2" text-anchor="end" font-weight="normal" fill="#222" color="#222">6</text>
<line x1="326.30" y1="326.20" x2="326.30" y2="328.20" stroke="#8a8a8a" stroke-width="1" stroke-linecap="butt"/>
<text x="326.30" y="336.80" font-size="7.6" text-anchor="middle" font-weight="normal" fill="#222" color="#222">0</text>
<line x1="348.60" y1="326.20" x2="348.60" y2="328.20" stroke="#8a8a8a" stroke-width="1" stroke-linecap="butt"/>
<text x="348.60" y="336.80" font-size="7.6" text-anchor="middle" font-weight="normal" fill="#222" color="#222">1</text>
<line x1="370.80" y1="326.20" x2="370.80" y2="328.20" stroke="#8a8a8a" stroke-width="1" stroke-linecap="butt"/>
<text x="370.80" y="336.80" font-size="7.6" text-anchor="middle" font-weight="normal" fill="#222" color="#222">2</text>
<line x1="391.40" y1="326.20" x2="391.40" y2="328.20" stroke="#8a8a8a" stroke-width="1" stroke-linecap="butt"/>
<text x="391.40" y="336.80" font-size="7.6" text-anchor="middle" font-weight="normal" fill="#222" color="#222">3</text>
<line x1="397.60" y1="326.20" x2="397.60" y2="328.20" stroke="#8a8a8a" stroke-width="1" stroke-linecap="butt"/>
<text x="397.60" y="336.80" font-size="7.6" text-anchor="middle" font-weight="normal" fill="#222" color="#222">6</text>
<line x1="405.50" y1="326.20" x2="405.50" y2="328.20" stroke="#8a8a8a" stroke-width="1" stroke-linecap="butt"/>
<text x="405.50" y="336.80" font-size="7.6" text-anchor="middle" font-weight="normal" fill="#222" color="#222">7</text>
<line x1="414.00" y1="326.20" x2="414.00" y2="328.20" stroke="#8a8a8a" stroke-width="1" stroke-linecap="butt"/>
<text x="414.00" y="336.80" font-size="7.6" text-anchor="middle" font-weight="normal" fill="#222" color="#222">8</text>
<text x="313.10" y="334.20" font-size="9.7" text-anchor="start" font-weight="normal" fill="#111" color="#111" transform="rotate(-90 313.10 334.20)"><tspan font-family="Liberation Serif">Σ</tspan> IFN-<tspan font-family="Liberation Serif" font-style="italic">α</tspan> (pg/ml/pDC) S3</text>
<text x="327.00" y="346.00" font-size="9.4" text-anchor="start" font-weight="normal" fill="#111" color="#111"><tspan font-family="Liberation Serif">Σ</tspan> IFN-<tspan font-family="Liberation Serif" font-style="italic">α</tspan> (pg/ml/pDC)</text>
<text x="369.60" y="355.50" font-size="9.4" text-anchor="middle" font-weight="normal" fill="#111" color="#111">S2</text>
<path d="M346.80,244.05L352.00,244.05L349.40,239.89Z" fill="#000"/>
<path d="M341.30,257.65L346.50,257.65L343.90,253.49Z" fill="#000"/>
<path d="M347.80,279.45L353.00,279.45L350.40,275.29Z" fill="#000"/>
<path d="M338.40,286.15L343.60,286.15L341.00,281.99Z" fill="#000"/>
<path d="M343.10,290.35L348.30,290.35L345.70,286.19Z" fill="#000"/>
<path d="M344.20,293.35L349.40,293.35L346.80,289.19Z" fill="#000"/>
<path d="M326.30,300.75L331.50,300.75L328.90,296.59Z" fill="#000"/>
<path d="M334.50,298.75L339.70,298.75L337.10,294.59Z" fill="#000"/>
<path d="M343.40,302.95L348.60,302.95L346.00,298.79Z" fill="#000"/>
<path d="M354.30,299.55L359.50,299.55L356.90,295.39Z" fill="#000"/>
<path d="M330.00,304.65L335.20,304.65L332.60,300.49Z" fill="#000"/>
<path d="M329.20,307.95L334.40,307.95L331.80,303.79Z" fill="#000"/>
<path d="M353.40,307.15L358.60,307.15L356.00,302.99Z" fill="#000"/>
<path d="M354.30,309.65L359.50,309.65L356.90,305.49Z" fill="#000"/>
<path d="M330.50,310.45L335.70,310.45L333.10,306.29Z" fill="#000"/>
<path d="M331.70,314.65L336.90,314.65L334.30,310.49Z" fill="#000"/>
<path d="M335.00,317.55L340.20,317.55L337.60,313.39Z" fill="#000"/>
<path d="M325.00,323.05L330.20,323.05L327.60,318.89Z" fill="#000"/>
<path d="M328.30,323.55L333.50,323.55L330.90,319.39Z" fill="#000"/>
<path d="M324.10,325.85L329.30,325.85L326.70,321.69Z" fill="#000"/>
<path d="M327.50,325.55L332.70,325.55L330.10,321.39Z" fill="#000"/>
<path d="M381.40,283.15L386.60,283.15L384.00,278.99Z" fill="#000"/>
<path d="M324.90,322.95L330.10,322.95L327.50,318.79Z" fill="#000"/>
<path d="M328.40,323.45L333.60,323.45L331.00,319.29Z" fill="#000"/>
<path d="M330.90,325.45L336.10,325.45L333.50,321.29Z" fill="#000"/>
<path d="M326.40,325.95L331.60,325.95L329.00,321.79Z" fill="#000"/>
<path d="M329.40,320.95L334.60,320.95L332.00,316.79Z" fill="#000"/>
<path d="M325.40,320.45L330.60,320.45L328.00,316.29Z" fill="#000"/>
<text x="427.90" y="224.60" font-size="13.6" text-anchor="start" font-weight="bold" fill="#000" color="#000">D</text>
<line x1="446.30" y1="237.60" x2="446.30" y2="327.70" stroke="#444" stroke-width="1" stroke-linecap="butt"/>
<line x1="445.80" y1="327.20" x2="518.20" y2="327.20" stroke="#333" stroke-width="1" stroke-linecap="butt"/>
<line x1="444.10" y1="327.20" x2="446.30" y2="327.20" stroke="#444" stroke-width="1" stroke-linecap="butt"/>
<text x="444.50" y="331.10" font-size="7.6" text-anchor="end" font-weight="normal" fill="#333" color="#333">0.1</text>
<line x1="445.00" y1="318.21" x2="446.30" y2="318.21" stroke="#444" stroke-width="0.8" stroke-linecap="butt"/>
<line x1="445.00" y1="312.95" x2="446.30" y2="312.95" stroke="#444" stroke-width="0.8" stroke-linecap="butt"/>
<line x1="445.00" y1="309.22" x2="446.30" y2="309.22" stroke="#444" stroke-width="0.8" stroke-linecap="butt"/>
<line x1="445.00" y1="306.32" x2="446.30" y2="306.32" stroke="#444" stroke-width="0.8" stroke-linecap="butt"/>
<line x1="445.00" y1="303.96" x2="446.30" y2="303.96" stroke="#444" stroke-width="0.8" stroke-linecap="butt"/>
<line x1="445.00" y1="301.96" x2="446.30" y2="301.96" stroke="#444" stroke-width="0.8" stroke-linecap="butt"/>
<line x1="445.00" y1="300.22" x2="446.30" y2="300.22" stroke="#444" stroke-width="0.8" stroke-linecap="butt"/>
<line x1="445.00" y1="298.70" x2="446.30" y2="298.70" stroke="#444" stroke-width="0.8" stroke-linecap="butt"/>
<line x1="444.10" y1="297.33" x2="446.30" y2="297.33" stroke="#444" stroke-width="1" stroke-linecap="butt"/>
<text x="444.50" y="301.23" font-size="7.6" text-anchor="end" font-weight="normal" fill="#333" color="#333">1</text>
<line x1="445.00" y1="288.34" x2="446.30" y2="288.34" stroke="#444" stroke-width="0.8" stroke-linecap="butt"/>
<line x1="445.00" y1="283.08" x2="446.30" y2="283.08" stroke="#444" stroke-width="0.8" stroke-linecap="butt"/>
<line x1="445.00" y1="279.35" x2="446.30" y2="279.35" stroke="#444" stroke-width="0.8" stroke-linecap="butt"/>
<line x1="445.00" y1="276.45" x2="446.30" y2="276.45" stroke="#444" stroke-width="0.8" stroke-linecap="butt"/>
<line x1="445.00" y1="274.09" x2="446.30" y2="274.09" stroke="#444" stroke-width="0.8" stroke-linecap="butt"/>
<line x1="445.00" y1="272.09" x2="446.30" y2="272.09" stroke="#444" stroke-width="0.8" stroke-linecap="butt"/>
<line x1="445.00" y1="270.35" x2="446.30" y2="270.35" stroke="#444" stroke-width="0.8" stroke-linecap="butt"/>
<line x1="445.00" y1="268.83" x2="446.30" y2="268.83" stroke="#444" stroke-width="0.8" stroke-linecap="butt"/>
<line x1="444.10" y1="267.46" x2="446.30" y2="267.46" stroke="#444" stroke-width="1" stroke-linecap="butt"/>
<text x="444.50" y="271.36" font-size="7.6" text-anchor="end" font-weight="normal" fill="#333" color="#333">10</text>
<line x1="445.00" y1="258.47" x2="446.30" y2="258.47" stroke="#444" stroke-width="0.8" stroke-linecap="butt"/>
<line x1="445.00" y1="253.21" x2="446.30" y2="253.21" stroke="#444" stroke-width="0.8" stroke-linecap="butt"/>
<line x1="445.00" y1="249.48" x2="446.30" y2="249.48" stroke="#444" stroke-width="0.8" stroke-linecap="butt"/>
<line x1="445.00" y1="246.58" x2="446.30" y2="246.58" stroke="#444" stroke-width="0.8" stroke-linecap="butt"/>
<line x1="445.00" y1="244.22" x2="446.30" y2="244.22" stroke="#444" stroke-width="0.8" stroke-linecap="butt"/>
<line x1="445.00" y1="242.22" x2="446.30" y2="242.22" stroke="#444" stroke-width="0.8" stroke-linecap="butt"/>
<line x1="445.00" y1="240.48" x2="446.30" y2="240.48" stroke="#444" stroke-width="0.8" stroke-linecap="butt"/>
<line x1="445.00" y1="238.96" x2="446.30" y2="238.96" stroke="#444" stroke-width="0.8" stroke-linecap="butt"/>
<line x1="444.10" y1="237.59" x2="446.30" y2="237.59" stroke="#444" stroke-width="1" stroke-linecap="butt"/>
<text x="444.50" y="241.49" font-size="7.6" text-anchor="end" font-weight="normal" fill="#333" color="#333">100</text>
<line x1="464.60" y1="327.20" x2="464.60" y2="329.20" stroke="#8a8a8a" stroke-width="1" stroke-linecap="butt"/>
<line x1="500.10" y1="327.20" x2="500.10" y2="329.20" stroke="#8a8a8a" stroke-width="1" stroke-linecap="butt"/>
<text x="432.60" y="313.00" font-size="9.2" text-anchor="start" font-weight="normal" fill="#111" color="#111" transform="rotate(-90 432.60 313.00)">Fold increase</text>
<text x="466.60" y="341.80" font-size="10.6" text-anchor="middle" font-weight="normal" fill="#111" color="#111">S2</text>
<text x="502.90" y="341.80" font-size="10.6" text-anchor="middle" font-weight="normal" fill="#111" color="#111">S3</text>
<text x="466.30" y="323.60" font-size="9.2" text-anchor="middle" font-weight="normal" fill="#111" color="#111">(1.080)</text>
<text x="503.10" y="323.60" font-size="9.2" text-anchor="middle" font-weight="normal" fill="#111" color="#111">(3.128)</text>
<text x="462.50" y="229.30" font-size="9.3" text-anchor="start" font-weight="normal" fill="#111" color="#111" font-style="italic">P</text>
<text x="470.60" y="229.30" font-size="9.3" text-anchor="start" font-weight="normal" fill="#111" color="#111">=</text>
<text x="478.00" y="229.30" font-size="9.3" text-anchor="start" font-weight="normal" fill="#111" color="#111">0.003</text>
<polyline points="466.00,237.30 466.00,233.80 497.30,233.80 497.30,237.30" fill="none" stroke="#111" stroke-width="1.0" stroke-linejoin="miter"/>
<circle cx="458.8" cy="290.1" r="1.7" fill="#fff" stroke="#000" stroke-width="0.9"/>
<circle cx="467.2" cy="289.6" r="1.7" fill="#fff" stroke="#000" stroke-width="0.9"/>
<circle cx="470.6" cy="290.9" r="1.7" fill="#fff" stroke="#000" stroke-width="0.9"/>
<circle cx="455.9" cy="293.8" r="1.7" fill="#fff" stroke="#000" stroke-width="0.9"/>
<circle cx="461.4" cy="293.8" r="1.7" fill="#fff" stroke="#000" stroke-width="0.9"/>
<circle cx="464.7" cy="292.6" r="1.7" fill="#fff" stroke="#000" stroke-width="0.9"/>
<circle cx="467.2" cy="293.4" r="1.7" fill="#fff" stroke="#000" stroke-width="0.9"/>
<circle cx="472.7" cy="294.3" r="1.7" fill="#fff" stroke="#000" stroke-width="0.9"/>
<circle cx="458.8" cy="297.6" r="1.7" fill="#fff" stroke="#000" stroke-width="0.9"/>
<circle cx="463.9" cy="298" r="1.7" fill="#fff" stroke="#000" stroke-width="0.9"/>
<circle cx="470.2" cy="298.4" r="1.7" fill="#fff" stroke="#000" stroke-width="0.9"/>
<circle cx="455.9" cy="301.4" r="1.7" fill="#fff" stroke="#000" stroke-width="0.9"/>
<circle cx="458.8" cy="302.2" r="1.7" fill="#fff" stroke="#000" stroke-width="0.9"/>
<circle cx="464.3" cy="302.2" r="1.7" fill="#fff" stroke="#000" stroke-width="0.9"/>
<circle cx="467.2" cy="301" r="1.7" fill="#fff" stroke="#000" stroke-width="0.9"/>
<circle cx="470.2" cy="302.2" r="1.7" fill="#fff" stroke="#000" stroke-width="0.9"/>
<circle cx="473.1" cy="301.4" r="1.7" fill="#fff" stroke="#000" stroke-width="0.9"/>
<circle cx="464.7" cy="303.9" r="1.7" fill="#fff" stroke="#000" stroke-width="0.9"/>
<circle cx="500.5" cy="259.9" r="2.3" fill="#000"/>
<circle cx="494.9" cy="273.2" r="2.3" fill="#000"/>
<circle cx="506.2" cy="273.5" r="2.3" fill="#000"/>
<circle cx="500.8" cy="276.5" r="2.3" fill="#000"/>
<circle cx="494.9" cy="281.2" r="2.3" fill="#000"/>
<circle cx="503.1" cy="279.6" r="2.3" fill="#000"/>
<circle cx="506.2" cy="281.9" r="2.3" fill="#000"/>
<circle cx="500" cy="283.5" r="2.3" fill="#000"/>
<circle cx="497.7" cy="285.8" r="2.3" fill="#000"/>
<circle cx="494.9" cy="290.1" r="2.3" fill="#000"/>
<circle cx="500.8" cy="290.1" r="2.3" fill="#000"/>
<circle cx="503.8" cy="288.1" r="2.3" fill="#000"/>
<circle cx="506.2" cy="290.7" r="2.3" fill="#000"/>
<circle cx="494.9" cy="295.8" r="2.3" fill="#000"/>
<circle cx="497.7" cy="294.2" r="2.3" fill="#000"/>
<circle cx="503.8" cy="296.2" r="2.3" fill="#000"/>
<circle cx="506.2" cy="296.2" r="2.3" fill="#000"/>
<circle cx="494.9" cy="299.6" r="2.3" fill="#000"/>
<circle cx="500.8" cy="299.6" r="2.3" fill="#000"/>
<circle cx="506.2" cy="301.9" r="2.3" fill="#000"/>
<circle cx="500.8" cy="305" r="2.3" fill="#000"/>
<line x1="452.20" y1="296.20" x2="476.60" y2="296.20" stroke="#000" stroke-width="1.1" stroke-linecap="butt"/>
<line x1="488.60" y1="282.50" x2="512.00" y2="282.50" stroke="#000" stroke-width="1" stroke-linecap="butt"/>
</svg>
</body></html>
